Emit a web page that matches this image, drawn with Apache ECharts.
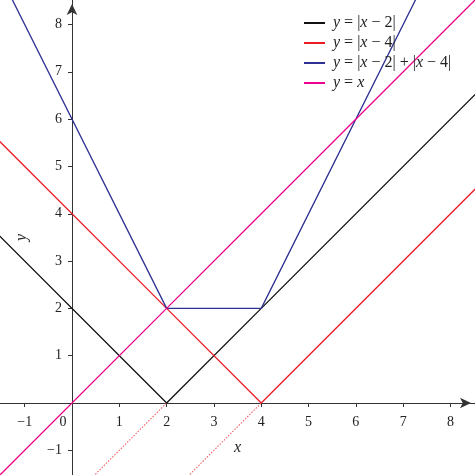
<!DOCTYPE html>
<html>
<head>
<meta charset="utf-8">
<script src="https://cdn.jsdelivr.net/npm/echarts@6/dist/echarts.min.js"></script>
<style>
  html, body { margin: 0; padding: 0; background: #fff; }
  #chart { width: 475px; height: 475px; }
</style>
</head>
<body>
<div id="chart"></div>
<script>
'use strict';
// x where the pieces bend, plus points past the edges so the clip does the rest
const xVals = [-2, 2, 4, 9];
const absXm2 = [4, 0, 2, 7];
const absXm4 = [6, 2, 0, 5];
const sumAbs = [10, 2, 2, 12];
const identity = [-2, 2, 4, 9];
// dotted continuations below the x axis
const dot1X = [0, 2];
const dot1Y = [-2, 0];
const dot2X = [2, 4];
const dot2Y = [-2, 0];
const tickVals = [-1, 1, 2, 3, 4, 5, 6, 7, 8];
const xLabelVals = [-1, 0, 1, 2, 3, 4, 5, 6, 7, 8];
const yLabelVals = [-1, 1, 2, 3, 4, 5, 6, 7, 8];
const names = ['y = |x − 2|', 'y = |x − 4|', 'y = |x − 2| + |x − 4|', 'y = x'];
const colors = ['#111111', '#ec1c24', '#2e3192', '#ec008c'];

const AMIN = -1.522, AMAX = 8.518;  // zero lands 72px from left / bottom
const pairs = (xs, ys) => xs.map((x, i) => [x, ys[i]]);
const minus = v => String(v).replace('-', '−');
const serif = 'Liberation Serif';
const axisColor = '#333';
const textColor = '#222';

let chart = echarts.init(document.querySelector('#chart'));

const lineSeries = (name, ys, color) => ({
  name: name,
  type: 'line',
  xAxisIndex: 0,
  yAxisIndex: 0,
  data: pairs(xVals, ys),
  symbol: 'none',
  clip: true,
  lineStyle: { color: color, width: 1.3 },
  itemStyle: { color: color }
});

const dotSeries = (xs, ys) => ({
  type: 'line',
  xAxisIndex: 0,
  yAxisIndex: 0,
  data: pairs(xs, ys),
  symbol: 'none',
  clip: true,
  silent: true,
  lineStyle: { color: '#f0606a', width: 1.1, type: [1.5, 1.5] }
});

// legend text: italic letters, upright operators
const legendRich = {
  i: { fontFamily: serif, fontStyle: 'italic', fontSize: 16, color: textColor },
  n: { fontFamily: serif, fontSize: 16, color: textColor }
};
const richName = s => s.split('').map(c => /[xy]/.test(c) ? '{i|' + c + '}' : '{n|' + c + '}').join('');

const hiddenAxis = (idx) => ({ type: 'value', gridIndex: idx, min: AMIN, max: AMAX, show: false });

const visibleLine = {
  onZero: false,
  symbol: ['none', 'arrow'],
  symbolSize: [8, 11],
  symbolOffset: [0, -4],
  lineStyle: { color: axisColor, width: 1 }
};
const nameStyle = { fontFamily: serif, fontStyle: 'italic', fontSize: 16, color: textColor };

chart.setOption({
  animation: false,
  grid: [
    { left: 0, right: 0, top: 0, bottom: 0 },          // plot area
    { left: 0, right: 0, top: 0, bottom: 72 },         // carries the x axis at y = 0
    { left: 72, width: 20, top: 0, bottom: 0 }         // carries the y axis at x = 0
  ],
  legend: {
    data: names,
    left: 299,
    top: 10,
    orient: 'vertical',
    itemGap: 4,
    itemWidth: 21,
    itemHeight: 2,
    icon: 'rect',
    formatter: name => richName(name),
    textStyle: { rich: legendRich, padding: [0, 0, 0, 3] }
  },
  xAxis: [
    hiddenAxis(0),
    {
      type: 'value',
      gridIndex: 1,
      position: 'bottom',
      min: AMIN,
      max: AMAX,
      name: 'x',
      nameLocation: 'middle',
      nameGap: 37,
      nameTextStyle: nameStyle,
      splitLine: { show: false },
      axisLine: visibleLine,
      axisTick: { show: true, length: 4, inside: false, customValues: tickVals, lineStyle: { color: axisColor } },
      axisLabel: {
        customValues: xLabelVals,
        margin: 12,
        fontFamily: serif,
        fontSize: 14,
        color: textColor,
        formatter: v => v === 0 ? '{z|0}' : minus(v),
        rich: { z: { fontFamily: serif, fontSize: 14, color: textColor, padding: [0, 18, 0, 0] } }
      }
    },
    hiddenAxis(2)
  ],
  yAxis: [
    hiddenAxis(0),
    hiddenAxis(1),
    {
      type: 'value',
      gridIndex: 2,
      position: 'left',
      min: AMIN,
      max: AMAX,
      name: 'y',
      nameLocation: 'middle',
      nameGap: 42,
      nameTextStyle: nameStyle,
      splitLine: { show: false },
      axisLine: visibleLine,
      axisTick: { show: true, length: 4, inside: false, customValues: tickVals, lineStyle: { color: axisColor } },
      axisLabel: {
        customValues: yLabelVals,
        margin: 10,
        fontFamily: serif,
        fontSize: 14,
        color: textColor,
        formatter: v => minus(v)
      }
    }
  ],
  series: [
    dotSeries(dot1X, dot1Y),
    dotSeries(dot2X, dot2Y),
    lineSeries(names[0], absXm2, colors[0]),
    lineSeries(names[1], absXm4, colors[1]),
    lineSeries(names[2], sumAbs, colors[2]),
    lineSeries(names[3], identity, colors[3])
  ]
});
</script>
</body>
</html>
